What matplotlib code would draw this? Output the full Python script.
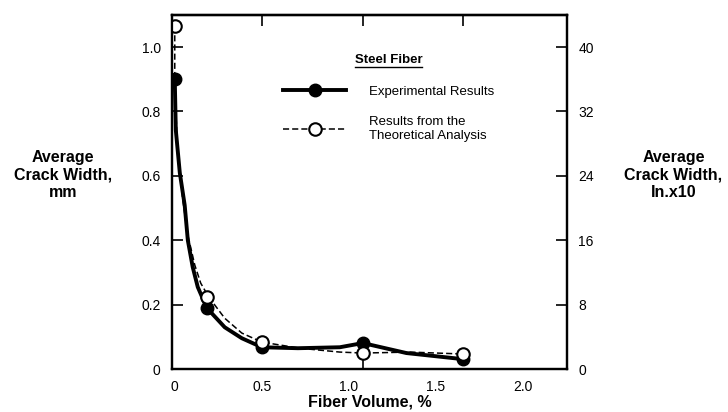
import matplotlib
matplotlib.use("Agg")
import matplotlib.pyplot as plt
from matplotlib.ticker import FuncFormatter, FixedLocator

plt.rcParams['font.family'] = ['Liberation Sans', 'DejaVu Sans']

# measured points
fiber_volume = [0.0, 0.184, 0.5, 1.08, 1.655]
exp_width = [0.90, 0.19, 0.068, 0.081, 0.031]
theo_width = [1.065, 0.224, 0.084, 0.050, 0.047]

# drawn curves
exp_curve_x = [0.0, 0.006, 0.029, 0.057, 0.075, 0.103, 0.132, 0.184, 0.287, 0.385,
               0.5, 0.707, 0.948, 1.08, 1.33, 1.655]
exp_curve_y = [0.90, 0.742, 0.609, 0.509, 0.40, 0.317, 0.255, 0.19, 0.13, 0.096,
               0.068, 0.065, 0.068, 0.081, 0.05, 0.031]
theo_curve_x = [0.0, 0.0, 0.017, 0.046, 0.075, 0.115, 0.149, 0.195, 0.287, 0.385,
                0.5, 0.718, 0.948, 1.08, 1.35, 1.655]
theo_curve_y = [1.065, 0.866, 0.68, 0.525, 0.416, 0.323, 0.267, 0.224, 0.158, 0.112,
                0.084, 0.065, 0.053, 0.050, 0.053, 0.047]

x_ticks = [0, 0.5, 1.0, 1.5, 2.0]
y_ticks = [0, 0.2, 0.4, 0.6, 0.8, 1.0]
y2_ticks = [0, 8, 16, 24, 32, 40]

fig = plt.figure(figsize=(7.28, 4.12), dpi=100)
ax = fig.add_axes([0.236, 0.104, 0.543, 0.860])

ax.plot(exp_curve_x, exp_curve_y, color='black', lw=2.8, solid_capstyle='round', zorder=3)
ax.plot(theo_curve_x, theo_curve_y, color='black', lw=1.1, ls=(0, (4, 2)), zorder=3)
ax.plot(fiber_volume, exp_width, ls='none', marker='o', ms=9, mfc='black', mec='black', zorder=4)
ax.plot(fiber_volume, theo_width, ls='none', marker='o', ms=9, mfc='white', mec='black',
        mew=1.5, zorder=5)

# legend handles
h_exp, = ax.plot([], [], color='black', lw=2.8, marker='o', ms=9, mfc='black')
h_theo, = ax.plot([], [], color='black', lw=1.1, ls=(0, (4, 2)), marker='o', ms=9,
                  mfc='white', mew=1.5)
leg = ax.legend([h_exp, h_theo], ['Experimental Results', 'Results from the\nTheoretical Analysis'],
                loc='upper left', bbox_to_anchor=(0.251, 0.923), frameon=False,
                handlelength=4.8, handletextpad=1.7, labelspacing=1.4, fontsize=9.5,
                title='Steel Fiber', title_fontproperties={'size': 9.5, 'weight': 'bold'})
leg._legend_box.align = 'center'
leg._legend_box.sep = 14

ax.set_xlim(-0.017, 2.253)
ax.set_ylim(0, 1.1)

ax.set_xticks(x_ticks)
ax.set_yticks(y_ticks)
ax.xaxis.set_major_formatter(FuncFormatter(lambda v, p: '0' if v == 0 else f'{v:.1f}'))
ax.yaxis.set_major_formatter(FuncFormatter(lambda v, p: '0' if v == 0 else f'{v:.1f}'))
ax.tick_params(axis='x', which='major', length=0, pad=8, labelsize=10)
ax.xaxis.set_minor_locator(FixedLocator(fiber_volume[2:4]))
ax.tick_params(axis='x', which='minor', direction='in', length=8, width=1.2)
ax.tick_params(axis='y', direction='in', length=8, width=1.2, pad=8, labelsize=10)

ax_top = ax.secondary_xaxis('top')
ax_top.set_xticks(fiber_volume[2:])
ax_top.tick_params(direction='in', length=8, width=1.2, labeltop=False)
ax_top.spines['top'].set_linewidth(1.6)

ax2 = ax.twinx()
ax2.set_ylim(0, 1.1 * 40)
ax2.set_yticks(y2_ticks)
ax2.tick_params(axis='y', direction='in', length=8, width=1.2, pad=8, labelsize=10)

for a in (ax, ax2):
    for s in a.spines.values():
        s.set_linewidth(1.6)

fig.text(0.508, 0.006, 'Fiber Volume, %', ha='center', va='bottom', fontsize=11.5, weight='bold')
fig.text(0.087, 0.575, 'Average\nCrack Width,\nmm', ha='center', va='center', fontsize=11.5,
         weight='bold', linespacing=1.2)
fig.text(0.925, 0.575, 'Average\nCrack Width,\nIn.x10', ha='center', va='center', fontsize=11.5,
         weight='bold', linespacing=1.2)

# underline legend title
fig.canvas.draw()
bb = leg.get_title().get_window_extent().transformed(fig.transFigure.inverted())
fig.add_artist(plt.Line2D([bb.x0, bb.x1], [bb.y0 - 0.003, bb.y0 - 0.003], color='black', lw=1.0))

fig.savefig('out.png', dpi=100)
